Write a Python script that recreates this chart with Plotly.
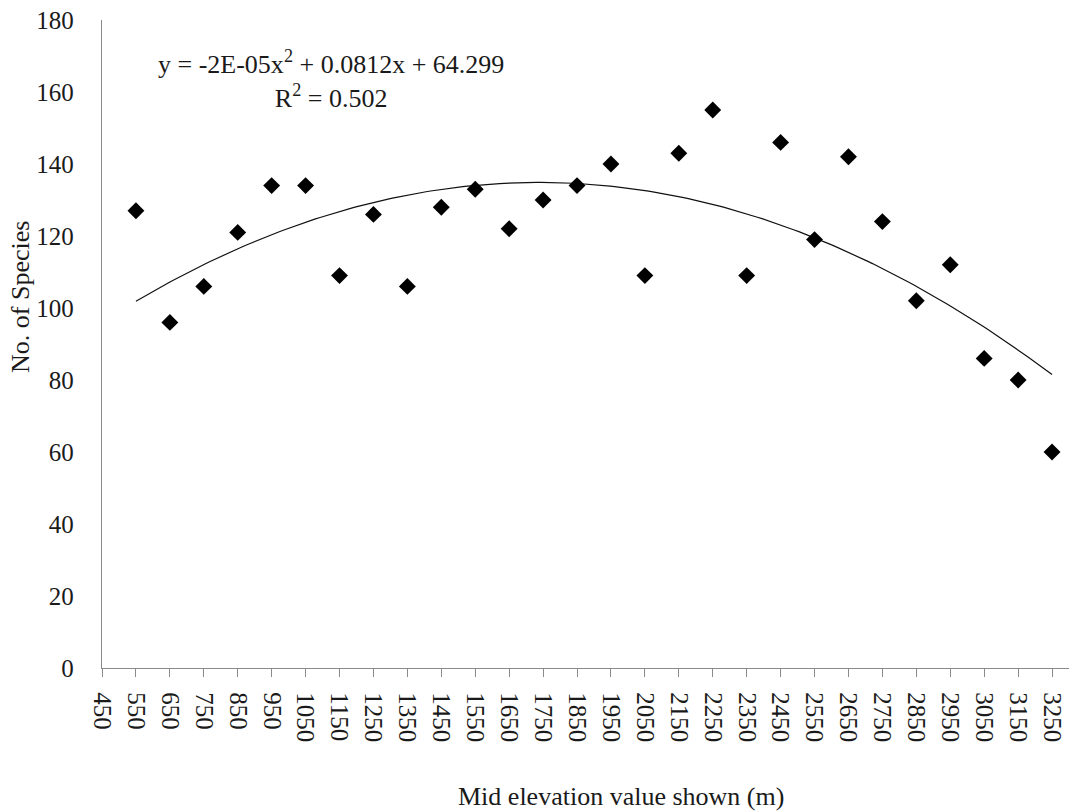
import numpy as np
import plotly.graph_objects as go

# Mid elevation of each band (m) and number of species recorded
elevation = [550, 650, 750, 850, 950, 1050, 1150, 1250, 1350, 1450,
             1550, 1650, 1750, 1850, 1950, 2050, 2150, 2250, 2350, 2450,
             2550, 2650, 2750, 2850, 2950, 3050, 3150, 3250]
species = [127, 96, 106, 121, 134, 134, 109, 126, 106, 128,
           133, 122, 130, 134, 140, 109, 143, 155, 109, 146,
           119, 142, 124, 102, 112, 86, 80, 60]

x_ticks = list(range(450, 3251, 100))
y_ticks = list(range(0, 181, 20))

equation_text = "y = -2E-05x<sup>2</sup> + 0.0812x + 64.299"
r2_text = "R<sup>2</sup> = 0.502"
x_title = "Mid elevation value shown (m)"
y_title = "No. of Species"

# Second-order polynomial trendline fitted to the observations
coef = np.polyfit(elevation, species, 2)
x_fit = np.linspace(min(elevation), max(elevation), 200)
y_fit = np.polyval(coef, x_fit)

FONT = "Liberation Serif"
TXT = "#1a1a1a"
AXIS = "#8a8a8a"

fig = go.Figure()
fig.add_trace(go.Scatter(
    x=x_fit, y=y_fit, mode="lines",
    line=dict(color="#111111", width=1.2),
    hoverinfo="skip", showlegend=False,
))
fig.add_trace(go.Scatter(
    x=elevation, y=species, mode="markers",
    marker=dict(symbol="diamond", size=13, color="black"),
    showlegend=False,
))

fig.update_layout(
    width=1073, height=812,
    margin=dict(l=102, r=4, t=20, b=144),
    paper_bgcolor="white", plot_bgcolor="white",
    font=dict(family=FONT, color=TXT, size=25),
    xaxis=dict(
        range=[450, 3300],
        tickmode="array", tickvals=x_ticks,
        ticktext=[str(v) for v in x_ticks],
        tickangle=90,
        ticks="outside", ticklen=8, tickcolor=AXIS, tickwidth=1.2,
        showline=True, linecolor=AXIS, linewidth=1.3,
        showgrid=False, zeroline=False,
        ticklabelstandoff=10,
        tickfont=dict(family=FONT, size=25, color=TXT),
    ),
    yaxis=dict(
        range=[0, 180],
        tickmode="array", tickvals=y_ticks,
        ticks="", showline=True, linecolor=AXIS, linewidth=1.3,
        showgrid=False, zeroline=False,
        ticklabelstandoff=22,
        tickfont=dict(family=FONT, size=25, color=TXT),
    ),
)

plot_left, plot_w = 102, 967
plot_bottom, plot_h = 668, 648


def px_to_paper(px, py):
    return (px - plot_left) / plot_w, (plot_bottom - py) / plot_h


# Trendline equation and R² as one centred two-line label
ax, ay = px_to_paper(331, 80)
fig.add_annotation(text=equation_text + "<br>" + r2_text,
                   x=ax, y=ay, xref="paper", yref="paper",
                   xanchor="center", yanchor="middle", align="center",
                   showarrow=False,
                   font=dict(family=FONT, size=26, color=TXT))

ax, ay = px_to_paper(621, 797)
fig.add_annotation(text=x_title, x=ax, y=ay, xref="paper", yref="paper",
                   xanchor="center", yanchor="middle", showarrow=False,
                   font=dict(family=FONT, size=26, color=TXT))

ax, ay = px_to_paper(20, 297)
fig.add_annotation(text=y_title, x=ax, y=ay, xref="paper", yref="paper",
                   xanchor="center", yanchor="middle", showarrow=False,
                   textangle=-90,
                   font=dict(family=FONT, size=26, color=TXT))

fig.write_html("out.html")
